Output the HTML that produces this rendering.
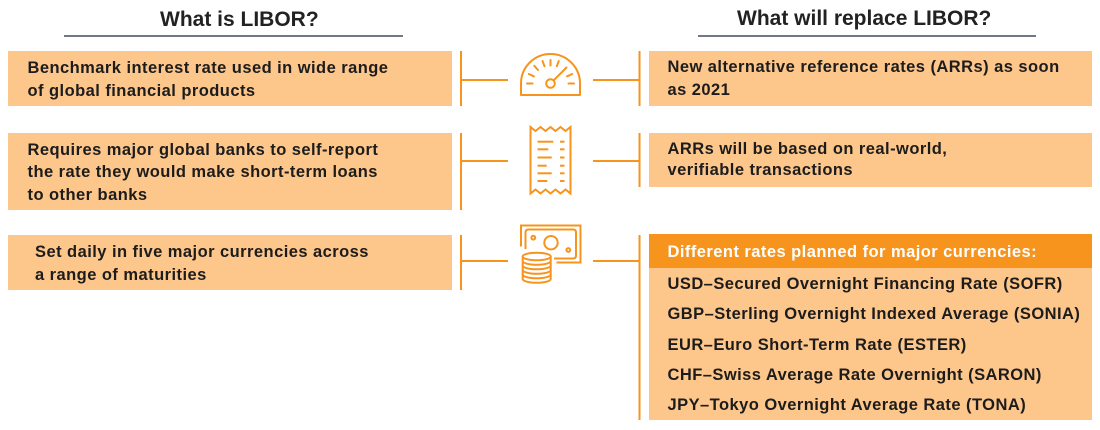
<!DOCTYPE html>
<html>
<head>
<meta charset="utf-8">
<style>
  html, body { margin:0; padding:0; background:#ffffff; }
  #wrap { position:relative; width:1100px; height:430px; overflow:hidden; background:#fff;
          font-family:"Liberation Sans", Arial, sans-serif; }
  .box { position:absolute; background:#FDC68B; }
  .hdr { position:absolute; background:#F7941D; }
  .t { position:absolute; white-space:nowrap; font-weight:bold; color:#1c1c1c;
       font-size:16.5px; line-height:22.5px; letter-spacing:0.45px; }
  .title { position:absolute; white-space:nowrap; font-weight:bold; color:#222;
       font-size:21px; line-height:25px; }
  .ul { position:absolute; height:2px; background:#6F7884; }
  svg { position:absolute; left:0; top:0; }
</style>
</head>
<body>
<div id="wrap">
  <!-- titles -->
  <div class="title" style="left:160px; top:7px;">What is LIBOR?</div>
  <div class="ul" style="left:64px; top:35px; width:339px;"></div>
  <div class="title" style="left:737px; top:6px;">What will replace LIBOR?</div>
  <div class="ul" style="left:698px; top:35px; width:338px;"></div>

  <!-- left boxes -->
  <div class="box" style="left:8px; top:51px; width:444px; height:55px;"></div>
  <div class="box" style="left:8px; top:133px; width:444px; height:77px;"></div>
  <div class="box" style="left:8px; top:235px; width:444px; height:55px;"></div>

  <!-- right boxes -->
  <div class="box" style="left:649px; top:51px; width:443px; height:55px;"></div>
  <div class="box" style="left:649px; top:133px; width:443px; height:54px;"></div>
  <div class="box" style="left:649px; top:234px; width:443px; height:186px;"></div>
  <div class="hdr" style="left:649px; top:234px; width:443px; height:33.5px;"></div>

  <!-- left texts -->
  <div class="t" style="left:27.5px; top:57px;">Benchmark interest rate used in wide range<br>of global financial products</div>
  <div class="t" style="left:27.5px; top:138.7px;">Requires major global banks to self-report<br>the rate they would make short-term loans<br>to other banks</div>
  <div class="t" style="left:35px; top:241.3px;">Set daily in five major currencies across<br>a range of maturities</div>

  <!-- right texts -->
  <div class="t" style="left:667.5px; top:56.3px;">New alternative reference rates (ARRs) as soon<br>as 2021</div>
  <div class="t" style="left:667.5px; top:138.7px; line-height:21.5px;">ARRs will be based on real-world,<br>verifiable transactions</div>
  <div class="t" style="left:667.5px; top:240.7px; color:#ffffff;">Different rates planned for major currencies:</div>
  <div class="t" style="left:667.5px; top:269.2px; line-height:30.25px;">USD–Secured Overnight Financing Rate (SOFR)<br>GBP–Sterling Overnight Indexed Average (SONIA)<br>EUR–Euro Short-Term Rate (ESTER)<br>CHF–Swiss Average Rate Overnight (SARON)<br>JPY–Tokyo Overnight Average Rate (TONA)</div>

  <svg width="1100" height="430" viewBox="0 0 1100 430" xmlns="http://www.w3.org/2000/svg">
    <g stroke="#F7941D" stroke-width="2" fill="none">
      <!-- connectors left -->
      <line x1="461" y1="51" x2="461" y2="106"/>
      <line x1="461" y1="133" x2="461" y2="210"/>
      <line x1="461" y1="235" x2="461" y2="290"/>
      <line x1="461" y1="80" x2="508" y2="80"/>
      <line x1="461" y1="161" x2="508" y2="161"/>
      <line x1="461" y1="261" x2="508" y2="261"/>
      <!-- connectors right -->
      <line x1="639.5" y1="51" x2="639.5" y2="106"/>
      <line x1="639.5" y1="133" x2="639.5" y2="187"/>
      <line x1="639.5" y1="235" x2="639.5" y2="420"/>
      <line x1="593" y1="80" x2="640" y2="80"/>
      <line x1="593" y1="161" x2="640" y2="161"/>
      <line x1="593" y1="261" x2="640" y2="261"/>

      <!-- gauge icon -->
      <path d="M521,83.5 A29.5,29.5 0 0 1 580,83.5 L580,95 L521,95 Z" stroke-linejoin="round"/>
      <circle cx="550.5" cy="83.5" r="4.3"/>
      <line x1="553.6" y1="80.4" x2="566.5" y2="67.5" stroke-linecap="round"/>
      <g stroke-linecap="round">
        <line x1="527" y1="83.5" x2="532.5" y2="83.5"/>
        <line x1="528.8" y1="74" x2="533.9" y2="76.3"/>
        <line x1="534.3" y1="65.8" x2="538" y2="70"/>
        <line x1="542.5" y1="61" x2="544.5" y2="66.2"/>
        <line x1="550.5" y1="60" x2="550.5" y2="65.5"/>
        <line x1="558.8" y1="61" x2="556.8" y2="66.2"/>
        <line x1="572.2" y1="74" x2="567.1" y2="76.3"/>
        <line x1="568.5" y1="83.5" x2="574" y2="83.5"/>
      </g>

      <!-- receipt icon -->
      <path d="M530.5,193.5 V127 L535.5,131 L540.5,127 L545.5,131 L550.5,127 L555.5,131 L560.5,127 L565.5,131 L570.5,127 V193.5 L565.5,189.5 L560.5,193.5 L555.5,189.5 L550.5,193.5 L545.5,189.5 L540.5,193.5 L535.5,189.5 Z" stroke-linejoin="miter"/>
      <line x1="537.5" y1="141.7" x2="553.3" y2="141.7"/>
      <line x1="537.5" y1="149.3" x2="548.3" y2="149.3"/>
      <line x1="537.5" y1="157.5" x2="551.7" y2="157.5"/>
      <line x1="537.5" y1="165.7" x2="546.7" y2="165.7"/>
      <line x1="537.5" y1="173.3" x2="551.7" y2="173.3"/>
      <line x1="537.5" y1="181" x2="547.3" y2="181"/>
      <line x1="560" y1="141.7" x2="564.5" y2="141.7"/>
      <line x1="560" y1="149.3" x2="564.5" y2="149.3"/>
      <line x1="560" y1="157.5" x2="564.5" y2="157.5"/>
      <line x1="560" y1="165.7" x2="564.5" y2="165.7"/>
      <line x1="560" y1="173.3" x2="564.5" y2="173.3"/>
      <line x1="560" y1="181" x2="564.5" y2="181"/>

      <!-- money icon: bill -->
      <path d="M521,246.5 V225.5 H580.5 V262.5 H556.5"/>
      <path d="M525.5,249 V232.5 Q525.5,229.5 528.5,229.5 H573 Q576,229.5 576,232.5 V255.5 Q576,258.5 573,258.5 H554"/>
      <circle cx="551" cy="242.7" r="6.7"/>
      <circle cx="533.3" cy="237.7" r="1.9"/>
      <circle cx="568.3" cy="250" r="1.9"/>
      <!-- coins -->
      <path d="M522.7,256.5 V279 A14,3.8 0 0 0 550.7,279 V256.5" fill="#ffffff"/>
      <ellipse cx="536.7" cy="256.5" rx="14" ry="3.8" fill="#ffffff"/>
      <path d="M522.7,261 A14,3.8 0 0 0 550.7,261"/>
      <path d="M522.7,265.5 A14,3.8 0 0 0 550.7,265.5"/>
      <path d="M522.7,270 A14,3.8 0 0 0 550.7,270"/>
      <path d="M522.7,274.5 A14,3.8 0 0 0 550.7,274.5"/>
    </g>
  </svg>
</div>
</body>
</html>
